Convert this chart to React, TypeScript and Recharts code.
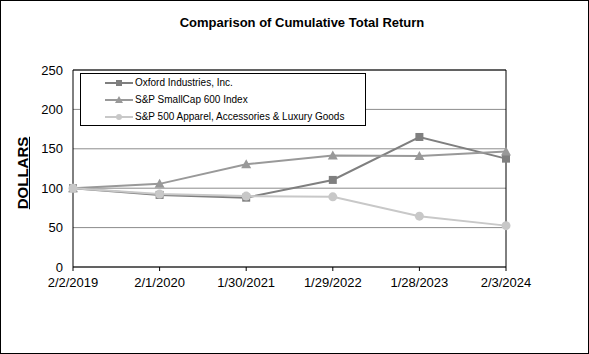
import { LineChart, Line, XAxis, YAxis, CartesianGrid, ReferenceLine } from 'recharts'

const dates = ['2/2/2019', '2/1/2020', '1/30/2021', '1/29/2022', '1/28/2023', '2/3/2024']
const oxford = [100, 91.5, 88, 110.5, 165, 137.5]
const smallCap = [100, 105.5, 130.5, 141.5, 141, 146.5]
const apparel = [100, 92.5, 90, 89, 64.5, 52.5]
const yTicks = [0, 50, 100, 150, 200, 250]

const data = dates.map((d, i) => ({
  date: d,
  oxford: oxford[i],
  smallCap: smallCap[i],
  apparel: apparel[i],
}))

const FONT = 'Arial, "Liberation Sans", sans-serif'

// series colours, greys as in the printed report
const SERIES = [
  { key: 'oxford', name: 'Oxford Industries, Inc.', color: '#7f7f7f', shape: 'square' },
  { key: 'smallCap', name: 'S&P SmallCap 600 Index', color: '#999999', shape: 'triangle' },
  { key: 'apparel', name: 'S&P 500 Apparel, Accessories & Luxury Goods', color: '#c8c8c8', shape: 'circle' },
] as const

type Shape = 'square' | 'triangle' | 'circle'

function Marker({ cx, cy, color, shape }: { cx: number; cy: number; color: string; shape: Shape }) {
  if (shape === 'square') {
    return <rect x={cx - 4} y={cy - 4} width={8} height={8} fill={color} />
  }
  if (shape === 'triangle') {
    return <polygon points={`${cx},${cy - 5} ${cx + 5},${cy + 4} ${cx - 5},${cy + 4}`} fill={color} />
  }
  return <circle cx={cx} cy={cy} r={4.5} fill={color} />
}

function LegendBox() {
  return (
    <div
      style={{
        position: 'absolute',
        left: 80,
        top: 73,
        width: 286,
        height: 53,
        border: '1px solid #000',
        boxSizing: 'border-box',
        background: '#fff',
      }}
    >
      {SERIES.map(s => (
        <div key={s.key} style={{ display: 'flex', alignItems: 'center', height: 17, paddingLeft: 24 }}>
          <svg width={28} height={12} style={{ marginRight: 2 }}>
            <line x1={0} y1={6} x2={28} y2={6} stroke={s.color} strokeWidth={2} />
            {s.shape === 'square' && <rect x={11} y={3} width={6} height={6} fill={s.color} />}
            {s.shape === 'triangle' && <polygon points="14,2 18,9 10,9" fill={s.color} />}
            {s.shape === 'circle' && <circle cx={14} cy={6} r={3} fill={s.color} />}
          </svg>
          <span style={{ fontSize: 10, fontFamily: FONT, color: '#000' }}>{s.name}</span>
        </div>
      ))}
    </div>
  )
}

export default function App() {
  return (
    <div style={{ position: 'absolute', left: 0, top: 0, width: 589, height: 354, background: '#fff' }}>
      <LineChart
        width={589}
        height={354}
        data={data}
        margin={{ top: 70, right: 83, bottom: 57, left: 13 }}
      >
        <CartesianGrid horizontal vertical={false} stroke="#8c8c8c" />
        <XAxis
          dataKey="date"
          height={30}
          axisLine={{ stroke: '#000' }}
          tickLine={{ stroke: '#000' }}
          tickSize={4}
          tickMargin={7}
          tick={{ fill: '#000', fontSize: 13, fontFamily: FONT }}
          interval={0}
        />
        <YAxis
          width={60}
          domain={[0, 250]}
          ticks={yTicks}
          axisLine={{ stroke: '#000' }}
          tickLine={false}
          tickSize={0}
          tickMargin={10}
          tick={{ fill: '#000', fontSize: 13, fontFamily: FONT }}
        />
        <ReferenceLine y={250} stroke="#000" />
        <ReferenceLine x="2/3/2024" stroke="#000" />
        {SERIES.map(s => (
          <Line
            key={s.key}
            dataKey={s.key}
            name={s.name}
            type="linear"
            stroke={s.color}
            strokeWidth={2}
            isAnimationActive={false}
            dot={(p: any) => (
              <Marker key={`${s.key}-${p.index}`} cx={p.cx} cy={p.cy} color={s.color} shape={s.shape} />
            )}
            activeDot={false}
          />
        ))}
      </LineChart>

      <LegendBox />

      <div
        style={{
          position: 'absolute',
          left: 302,
          top: 14.5,
          transform: 'translateX(-50%)',
          whiteSpace: 'nowrap',
          fontFamily: FONT,
          fontWeight: 'bold',
          fontSize: 13,
          lineHeight: '15px',
        }}
      >
        Comparison of Cumulative Total Return
      </div>

      <div
        style={{
          position: 'absolute',
          left: 23.4 - 40,
          top: 172.5 - 9,
          width: 80,
          height: 18,
          lineHeight: '18px',
          textAlign: 'center',
          transform: 'rotate(-90deg)',
          fontFamily: FONT,
          fontWeight: 'bold',
          fontSize: 15,
          textDecoration: 'underline',
        }}
      >
        DOLLARS
      </div>

      <div
        style={{
          position: 'absolute',
          left: 0,
          top: 0,
          width: 589,
          height: 354,
          border: '1px solid #000',
          boxSizing: 'border-box',
          pointerEvents: 'none',
        }}
      />
    </div>
  )
}
